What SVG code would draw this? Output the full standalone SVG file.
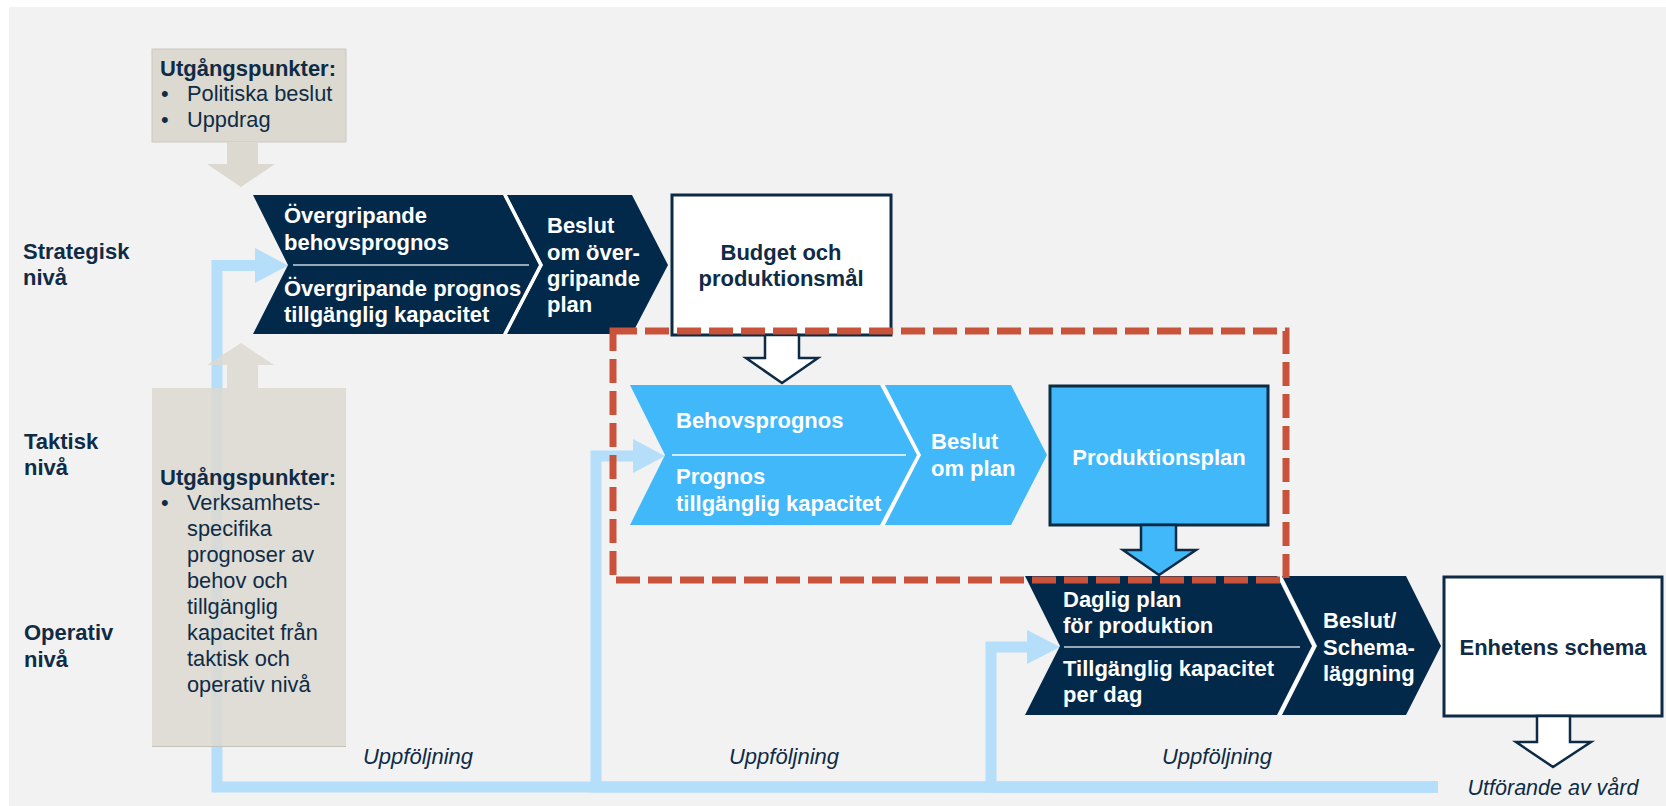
<svg xmlns="http://www.w3.org/2000/svg" width="1666" height="806" viewBox="0 0 1666 806">
<defs>
<style>
text{font-family:"Liberation Sans",Arial,sans-serif;}
.lvl{font-size:22px;font-weight:bold;fill:#0f2b46;}
.wb{font-size:22px;font-weight:bold;fill:#ffffff;}
.nb{font-size:22px;font-weight:bold;fill:#0f2b46;}
.reg{font-size:21.8px;fill:#0f2b46;}
.it{font-size:22px;font-style:italic;fill:#0f2b46;}
.it2{font-size:21.5px;font-style:italic;fill:#0f2b46;}
.navy{fill:#03294a;}
.lblue{fill:#40b8f9;}
.beige{fill:#dcd9d0;opacity:0.88;}
.fb{fill:none;stroke:#b4defa;stroke-width:11;}
.fbh{fill:#b4defa;}
.gap{fill:none;stroke:#ffffff;stroke-width:3;}
.sep{stroke:#c9d3dc;stroke-width:1.5;}
.box{stroke:#0d2b45;stroke-width:3;}
.arr{stroke:#0d2b45;stroke-width:2.5;stroke-linejoin:miter;}
</style>
</defs>
<rect x="0" y="0" width="1666" height="806" fill="#ffffff"/>
<rect x="9" y="7" width="1657" height="799" fill="#f2f2f2"/>

<g id="level-labels">
<text class="lvl" x="23" y="259">Strategisk</text>
<text class="lvl" x="23" y="285">nivå</text>
<text class="lvl" x="24" y="449">Taktisk</text>
<text class="lvl" x="24" y="475">nivå</text>
<text class="lvl" x="24" y="640">Operativ</text>
<text class="lvl" x="24" y="667">nivå</text>
</g>

<g id="connectors">
<path class="fb" d="M1438,787 H217 V265.5 H257"/>
<polygon class="fbh" points="255,248 288,265.5 255,283"/>
<path class="fb" d="M1438,787 H596 V456 H635"/>
<polygon class="fbh" points="633,439 665,456 633,473"/>
<path class="fb" d="M1438,787 H991 V647 H1029"/>
<polygon class="fbh" points="1027,630 1060,647 1027,664"/>
</g>

<g id="utgangspunkter-strategisk">
<rect x="152" y="49" width="194" height="93" fill="#dcd9d0" stroke="#c9c7bf" stroke-width="1"/>
<text class="nb" x="160" y="76">Utgångspunkter:</text>
<text class="reg" x="161" y="101">•</text>
<text class="reg" x="187" y="101">Politiska beslut</text>
<text class="reg" x="161" y="127">•</text>
<text class="reg" x="187" y="127">Uppdrag</text>
<polygon fill="#dcd9d0" points="227,142 258,142 258,164 275,164 241,187 207,164 227,164"/>
</g>

<g id="utgangspunkter-taktisk">
<polygon class="beige" points="241,343 274,365 258,365 258,388 227,388 227,365 207,365"/>
<rect class="beige" x="152" y="388" width="194" height="358"/>
<line x1="152" y1="746.5" x2="346" y2="746.5" stroke="#c3c1b9" stroke-width="1"/>
<text class="nb" x="160" y="485">Utgångspunkter:</text>
<text class="reg" x="161" y="510">•</text>
<text class="reg" x="187" y="510">Verksamhets-</text>
<text class="reg" x="187" y="536">specifika</text>
<text class="reg" x="187" y="562">prognoser av</text>
<text class="reg" x="187" y="588">behov och</text>
<text class="reg" x="187" y="614">tillgänglig</text>
<text class="reg" x="187" y="640">kapacitet från</text>
<text class="reg" x="187" y="666">taktisk och</text>
<text class="reg" x="187" y="692">operativ nivå</text>
</g>

<g id="strategisk-prognos">
<polygon class="navy" points="253,195 503,195 539,265 503,334 253,334 288,265"/>
<line class="sep" x1="293" y1="265" x2="529" y2="265"/>
<text class="wb" x="284" y="223">Övergripande</text>
<text class="wb" x="284" y="250">behovsprognos</text>
<text class="wb" x="284" y="296">Övergripande prognos</text>
<text class="wb" x="284" y="322">tillgänglig kapacitet</text>
</g>

<g id="strategisk-beslut">
<polygon class="navy" points="507,195 632,195 668,265 632,334 507,334 543,265"/>
<polyline class="gap" points="505,195 541,265 505,334"/>
<text class="wb" x="547" y="233">Beslut</text>
<text class="wb" x="547" y="260">om över-</text>
<text class="wb" x="547" y="286">gripande</text>
<text class="wb" x="547" y="312">plan</text>
</g>

<g id="budget">
<rect class="box" x="672" y="195" width="219" height="140" fill="#ffffff"/>
<text class="nb" x="781" y="260" text-anchor="middle">Budget och</text>
<text class="nb" x="781" y="286" text-anchor="middle">produktionsmål</text>
<polygon class="arr" fill="#ffffff" points="765,335 799,335 799,358 818,358 782,383 746,358 765,358"/>
</g>

<g id="taktisk-prognos">
<polygon class="lblue" points="630,385 880,385 917,455 880,525 630,525 665,455"/>
<line x1="672" y1="455" x2="906" y2="455" stroke="#ffffff" stroke-width="1.5"/>
<text class="wb" x="676" y="428">Behovsprognos</text>
<text class="wb" x="676" y="484">Prognos</text>
<text class="wb" x="676" y="511">tillgänglig kapacitet</text>
</g>

<g id="taktisk-beslut">
<polygon class="lblue" points="885,385 1011,385 1047,455 1011,525 885,525 921,455"/>
<polyline class="gap" points="882.5,385 919,455 882.5,525" stroke="#e8eef2"/>
<text class="wb" x="931" y="449">Beslut</text>
<text class="wb" x="931" y="476">om plan</text>
</g>

<g id="produktionsplan">
<rect class="box" x="1050" y="386" width="218" height="139" fill="#40b8f9"/>
<text class="wb" x="1159" y="465" text-anchor="middle">Produktionsplan</text>
<polygon class="arr" fill="#40b8f9" points="1141,525 1176,525 1176,550 1196,550 1159,575 1123,550 1141,550"/>
</g>

<g id="operativ-plan">
<polygon class="navy" points="1025,576 1277,576 1312,646 1277,715 1025,715 1060,646"/>
<line class="sep" x1="1064" y1="647" x2="1300" y2="647"/>
<text class="wb" x="1063" y="607">Daglig plan</text>
<text class="wb" x="1063" y="633">för produktion</text>
<text class="wb" x="1063" y="676">Tillgänglig kapacitet</text>
<text class="wb" x="1063" y="702">per dag</text>
</g>

<g id="operativ-beslut">
<polygon class="navy" points="1282,576 1406,576 1441,646 1406,715 1282,715 1317,646"/>
<polyline class="gap" points="1279.5,576 1314.5,646 1279.5,715"/>
<text class="wb" x="1323" y="628">Beslut/</text>
<text class="wb" x="1323" y="655">Schema-</text>
<text class="wb" x="1323" y="681">läggning</text>
</g>

<g id="enhetens-schema">
<rect class="box" x="1444" y="577" width="218" height="139" fill="#ffffff"/>
<text class="nb" x="1553" y="655" text-anchor="middle">Enhetens schema</text>
<polygon class="arr" fill="#ffffff" points="1537,716 1570,716 1570,742 1591,742 1553,767 1516,742 1537,742"/>
<text class="it2" x="1553" y="795" text-anchor="middle">Utförande av vård</text>
</g>

<g id="uppfoljning-labels">
<text class="it" x="418" y="764" text-anchor="middle">Uppföljning</text>
<text class="it" x="784" y="764" text-anchor="middle">Uppföljning</text>
<text class="it" x="1217" y="764" text-anchor="middle">Uppföljning</text>
</g>

<g id="taktisk-fokus">
<rect x="613" y="331" width="673" height="249" fill="none" stroke="#c9533a" stroke-width="7" stroke-dasharray="24 8"/>
</g>
</svg>
